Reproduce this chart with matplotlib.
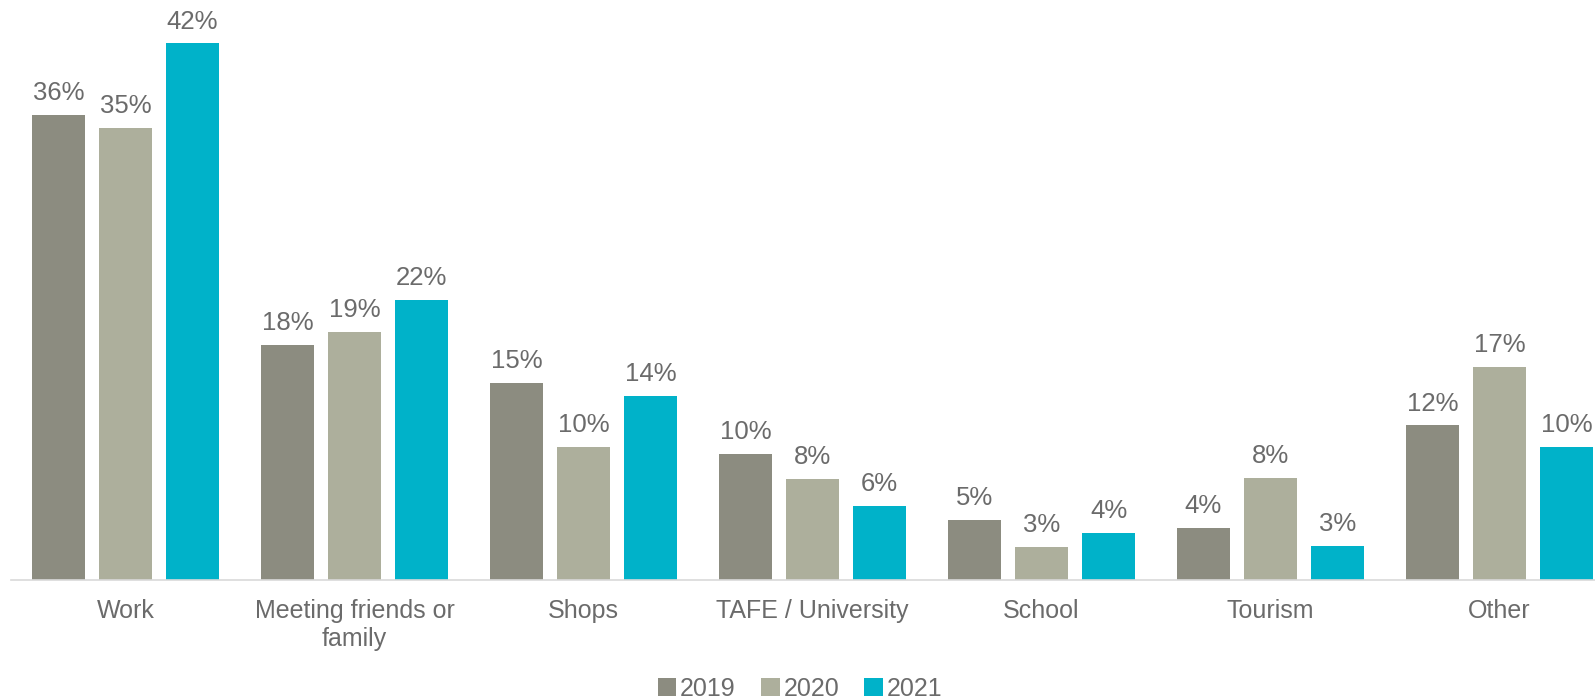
import numpy as np
import matplotlib
matplotlib.use("Agg")
import matplotlib.pyplot as plt

plt.rcParams["font.family"] = ["Liberation Sans", "DejaVu Sans"]

categories = ["Work", "Meeting friends or\nfamily", "Shops", "TAFE / University",
              "School", "Tourism", "Other"]
years = ["2019", "2020", "2021"]
v2019 = [36.4, 18.4, 15.4, 9.9, 4.7, 4.1, 12.1]
v2020 = [35.4, 19.4, 10.4, 7.9, 2.6, 8.0, 16.7]
v2021 = [42.0, 21.9, 14.4, 5.8, 3.7, 2.7, 10.4]
colors = ["#8c8c80", "#adaf9c", "#00b2c9"]

text_col = "#6b6b6b"

fig = plt.figure(figsize=(15.95, 7.0), dpi=100)
# axes run slightly past the right edge so the last bar is clipped
ax = fig.add_axes([11 / 1595, 120 / 700, 1603 / 1595, 575 / 700])

x = np.arange(len(categories))
width = 0.231
step = 0.293
for i, (yr, vals) in enumerate(zip(years, [v2019, v2020, v2021])):
    pos = x + (i - 1) * step
    bars = ax.bar(pos, vals, width, color=colors[i], label=yr, zorder=2)
    for b, v in zip(bars, vals):
        ax.annotate(f"{v:.0f}%", xy=(b.get_x() + b.get_width() / 2, v),
                    xytext=(0, 7), textcoords="offset points",
                    ha="center", va="bottom", fontsize=18.5, color=text_col)

ax.set_xlim(-0.5, len(categories) - 0.5)
ax.set_ylim(0, 45)
ax.set_yticks([])
ax.set_xticks(x)
ax.set_xticklabels(categories, fontsize=18, color=text_col, linespacing=1.2)
ax.tick_params(axis="x", length=0, pad=14)
for s in ["top", "right", "left"]:
    ax.spines[s].set_visible(False)
ax.spines["bottom"].set_color("#d9d9d9")
ax.spines["bottom"].set_linewidth(1.2)

leg = fig.legend(loc="center", bbox_to_anchor=(800 / 1595, 1 - 689 / 700),
                 ncol=3, frameon=False, fontsize=18, handlelength=0.75,
                 handleheight=0.75, handletextpad=0.15, columnspacing=1.0)
for t in leg.get_texts():
    t.set_color(text_col)

fig.savefig("out.png", dpi=100)
